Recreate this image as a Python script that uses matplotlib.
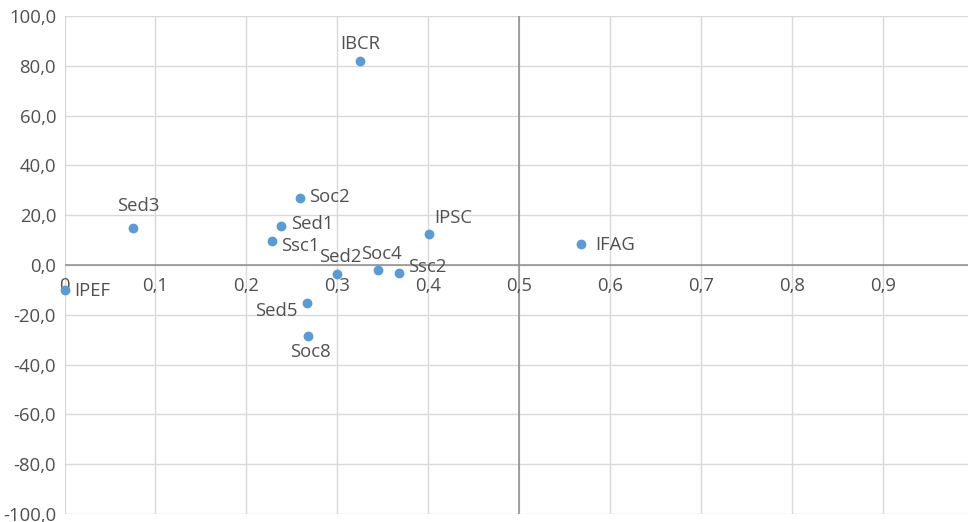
import matplotlib.pyplot as plt
import numpy as np

plt.rcParams['font.family'] = ['Open Sans', 'DejaVu Sans']

names = ['IPEF', 'Sed3', 'Soc2', 'Sed1', 'Ssc1', 'IBCR', 'Sed2', 'Soc4', 'Ssc2', 'IPSC', 'IFAG', 'Sed5', 'Soc8']
xs = [0.0, 0.075, 0.259, 0.238, 0.228, 0.325, 0.300, 0.345, 0.368, 0.401, 0.568, 0.267, 0.268]
ys = [-10.1, 14.9, 27.0, 15.5, 9.5, 81.9, -3.6, -2.1, -3.2, 12.4, 8.5, -15.2, -28.5]

# label offsets in pixels (dx, dy, ha)
offs = {'IPEF': (10, -1, 'left'), 'Sed3': (6, 22, 'center'), 'Soc2': (9, 1, 'left'),
        'Sed1': (10, 2, 'left'), 'Ssc1': (9, -5, 'left'), 'IBCR': (0, 17, 'center'),
        'Sed2': (3, 17, 'center'), 'Soc4': (3, 16, 'center'), 'Ssc2': (9, 6, 'left'),
        'IPSC': (5, 16, 'left'), 'IFAG': (14, -1, 'left'), 'Sed5': (-10, -8, 'right'),
        'Soc8': (2, -16, 'center')}

fs = 13.3
fig = plt.figure(figsize=(9.68, 5.22), dpi=100)
ax = fig.add_axes([64.5 / 968, 8 / 522, 909.5 / 968, 498 / 522])
ax.set_xlim(0, 1.0)
ax.set_ylim(-100, 100)

txt = '#505050'
ax.set_xticks(np.arange(0, 1.0, 0.1))
ax.set_yticks(np.arange(-100, 101, 20))
ax.grid(True, color='#D9D9D9', linewidth=1)
ax.set_axisbelow(True)
for s in ax.spines.values():
    s.set_visible(False)
ax.tick_params(length=0, colors=txt, labelsize=fs)
ax.set_yticklabels([f'{v:.1f}'.replace('.', ',') for v in np.arange(-100, 101, 20)])
ax.set_xticklabels([])
ax.tick_params(axis='y', pad=6)

# axes crossing lines
ax.axhline(0, color='#8C8C8C', linewidth=1.1, zorder=1)
ax.axvline(0.5, color='#8C8C8C', linewidth=1.1, zorder=1)

# x tick labels along y=0
for v in np.arange(0, 1.0, 0.1):
    lab = '0' if v == 0 else f'{v:.1f}'.replace('.', ',')
    ax.annotate(lab, (v, 0), xytext=(0, -21), textcoords='offset pixels',
                ha='center', va='center', fontsize=fs, color=txt)

ax.scatter(xs, ys, s=50, color='#5B9BD5', zorder=3, linewidths=0, clip_on=False)
for n, x, y in zip(names, xs, ys):
    dx, dy, ha = offs[n]
    ax.annotate(n, (x, y), xytext=(dx, dy), textcoords='offset pixels',
                ha=ha, va='center', fontsize=fs, color=txt)

fig.savefig('out.png', dpi=100)
